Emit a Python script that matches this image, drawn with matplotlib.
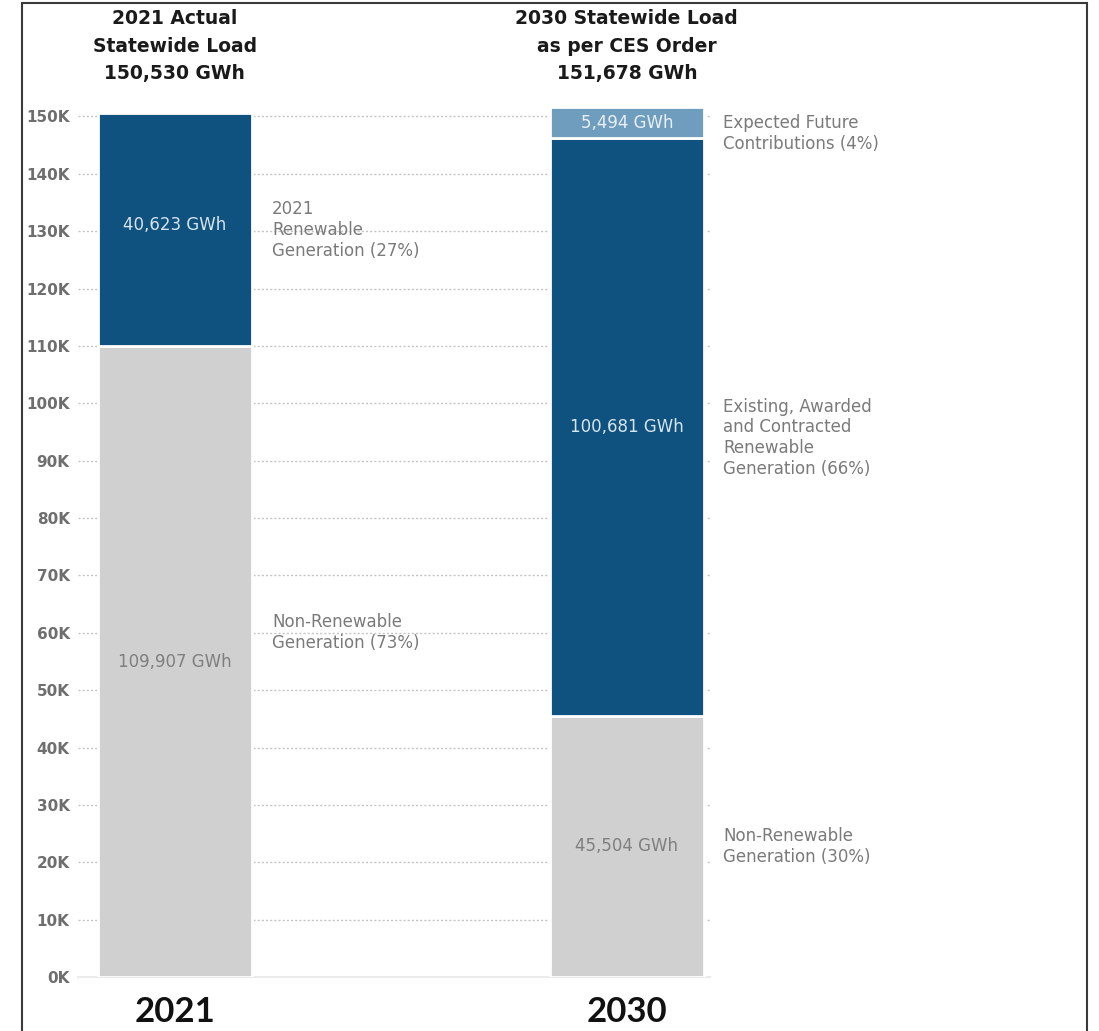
import matplotlib
matplotlib.use("Agg")
import matplotlib.pyplot as plt
from matplotlib.patches import Rectangle
import numpy as np

# ---- data ----
categories = ["2021", "2030"]
non_renewable = [109907, 45504]
renewable = [40623, 100681]
expected_future = [0, 5494]
titles = ["2021 Actual\nStatewide Load\n150,530 GWh",
          "2030 Statewide Load\nas per CES Order\n151,678 GWh"]
bar_labels_nonren = ["109,907 GWh", "45,504 GWh"]
bar_labels_ren = ["40,623 GWh", "100,681 GWh"]
bar_labels_future = ["", "5,494 GWh"]
side_labels_nonren = ["Non-Renewable\nGeneration (73%)", "Non-Renewable\nGeneration (30%)"]
side_labels_ren = ["2021\nRenewable\nGeneration (27%)",
                   "Existing, Awarded\nand Contracted\nRenewable\nGeneration (66%)"]
side_label_future = "Expected Future\nContributions (4%)"
yticks = list(range(0, 150001, 10000))
ytick_labels = [f"{v//1000}K" for v in yticks]

# ---- style ----
C_GREY = "#d0d0d0"
C_DARK = "#0f527f"
C_LIGHT = "#6f9dbd"
TXT_GREY = "#7a7a7a"
plt.rcParams["font.family"] = ["DejaVu Sans"]

W, H = 1099, 1031
fig = plt.figure(figsize=(W / 100, H / 100), dpi=100)
ax_left, ax_right = 78, 710
ax_bot, ax_top = 977, 105
ax = fig.add_axes([ax_left / W, (H - ax_bot) / H, (ax_right - ax_left) / W, (ax_bot - ax_top) / H])

x = np.arange(len(categories))
bw = 0.341
ax.set_xlim(-0.214, 1.184)
ax.set_ylim(0, 152000)

ax.bar(x, non_renewable, bw, color=C_GREY, edgecolor="white", linewidth=2, zorder=3)
ax.bar(x, renewable, bw, bottom=non_renewable, color=C_DARK, edgecolor="white", linewidth=2, zorder=3)
bottoms2 = [a + b for a, b in zip(non_renewable, renewable)]
ax.bar(x[1:], expected_future[1:], bw, bottom=bottoms2[1:], color=C_LIGHT,
       edgecolor="white", linewidth=2, zorder=3)

# grid
ax.set_yticks(yticks)
ax.set_yticklabels(ytick_labels)
ax.yaxis.grid(True, color="#c4c4c4", linestyle=(0, (1.5, 1.5)), linewidth=1.0, zorder=0)
ax.tick_params(axis="y", length=0, pad=6, labelsize=11, labelcolor="#6e6e6e")
for lab in ax.get_yticklabels():
    lab.set_fontweight("semibold")
ax.set_xticks([])
for s in ["left", "right", "top"]:
    ax.spines[s].set_visible(False)
ax.spines["bottom"].set_color("#ebebeb")
ax.spines["bottom"].set_linewidth(1.5)

# in-bar labels
for i in range(2):
    ax.text(x[i], non_renewable[i] / 2, bar_labels_nonren[i], ha="center", va="center",
            fontsize=12, color="#7f7f7f", zorder=4)
    ax.text(x[i], non_renewable[i] + renewable[i] / 2 if i == 1 else 131000,
            bar_labels_ren[i], ha="center", va="center", fontsize=12, color="#d8e4ee", zorder=4)
ax.text(x[1], bottoms2[1] + expected_future[1] / 2, bar_labels_future[1], ha="center", va="center",
        fontsize=12, color="#e8eff5", zorder=4)

# side labels
offs = [0.215, 0.213]
kw = dict(ha="left", va="center", fontsize=12, color=TXT_GREY, linespacing=1.2, clip_on=False)
ax.text(x[0] + offs[0], 130200, side_labels_ren[0], **kw)
ax.text(x[0] + offs[0], 60100, side_labels_nonren[0], **kw)
ax.text(x[1] + offs[1], 147100, side_label_future, **kw)
ax.text(x[1] + offs[1], 94000, side_labels_ren[1], **kw)
ax.text(x[1] + offs[1], 22800, side_labels_nonren[1], **kw)

# titles above bars and category labels below
for i in range(2):
    ax.annotate(titles[i], xy=(x[i], 1.0), xycoords=("data", "axes fraction"),
                xytext=(0, 22), textcoords="offset pixels", ha="center", va="bottom",
                fontsize=13.5, fontweight="bold", color="#1a1a1a", linespacing=1.55)
    ax.annotate(categories[i], xy=(x[i], 0.0), xycoords=("data", "axes fraction"),
                xytext=(0, -19), textcoords="offset pixels", ha="center", va="top",
                fontsize=25, fontweight="bold", color="#111111",
                family=["Lato", "DejaVu Sans"])

# frame border
fig.add_artist(Rectangle((22 / W, -0.01), (1087 - 22) / W, 1.01 - 3 / H, transform=fig.transFigure,
                         fill=False, edgecolor="#3a3a3a", linewidth=1.5))

fig.savefig("out.png", dpi=100, facecolor="white")
